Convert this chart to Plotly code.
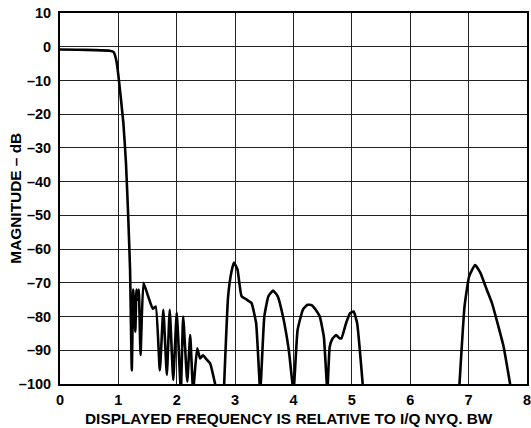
# import packages
import plotly.graph_objects as go

# Frequency response (None = curve below -100 dB)
freq = [0.0, 0.3, 0.6, 0.85, 0.92, 0.97, 1.0, 1.085, 1.13, 1.17, 1.2, 1.23,
        1.255, 1.29, 1.31, 1.33, 1.35, 1.38, 1.43, 1.51, 1.59, 1.64, 1.71,
        1.77, 1.83, 1.88, 1.94, 2.0, 2.07, 2.11, 2.18, 2.23, 2.28, 2.35, 2.40,
        2.45, 2.51, 2.57, 2.67, None,
        2.81, 2.88, 2.94, 2.98, 3.04, 3.11, 3.2, 3.28, 3.36, 3.43,
        3.5, 3.57, 3.65, 3.73, 3.82, 3.92, 4.0,
        4.07, 4.16, 4.24, 4.31, 4.38, 4.45, 4.52, 4.58,
        4.62, 4.67, 4.73, 4.78, 4.82, 4.9, 4.97, 5.03, 5.09, 5.19, None,
        6.84, 6.93, 7.01, 7.11, 7.2, 7.31, 7.4, 7.48, 7.6, 7.72]
mag = [-0.8, -0.9, -1.0, -1.2, -1.6, -4.5, -8.5, -22.5, -34.4, -51.0, -66.0, -96.0,
       -72.0, -84.5, -72.0, -75.0, -72.0, -91.4, -70.0, -74.0, -77.7, -77.0, -96.0,
       -78.0, -97.3, -78.0, -98.8, -78.8, -102.0, -80.0, -99.3, -85.5, -102.0, -89.4, -92.4,
       -91.5, -92.7, -93.8, -101.0, None,
       -101.0, -74.0, -66.5, -64.0, -66.0, -74.0, -75.0, -76.0, -82.0, -102.0,
       -80.0, -74.0, -72.3, -74.0, -80.0, -90.0, -102.0,
       -84.0, -78.0, -76.5, -76.6, -78.0, -80.0, -86.0, -102.0,
       -89.0, -86.5, -85.5, -86.3, -86.5, -82.0, -79.0, -78.5, -82.0, -101.0, None,
       -101.0, -77.0, -68.0, -64.7, -67.0, -72.0, -76.0, -81.0, -89.0, -101.0]

y_ticks = list(range(-100, 11, 10))
y_labels = [str(v).replace('-', '\u2013') for v in y_ticks]
x_ticks = list(range(0, 9))

fig = go.Figure(go.Scatter(x=freq, y=mag, mode='lines',
                           line=dict(color='black', width=2.6, shape='spline', smoothing=0.4),
                           connectgaps=False, hoverinfo='skip'))

axis_font = dict(family='Liberation Sans, Arial, sans-serif', size=14.5, color='black', weight='bold')
title_font = dict(family='Liberation Sans, Arial, sans-serif', size=15.4, color='black', weight='bold')

fig.update_layout(
    width=531, height=428,
    margin=dict(l=60, r=4, t=13, b=44),
    paper_bgcolor='white', plot_bgcolor='white',
    showlegend=False,
    xaxis=dict(range=[0, 8], tickvals=x_ticks, showgrid=True, gridcolor='#222222', gridwidth=1.3,
               zeroline=False, showline=True, linecolor='black', linewidth=2, mirror=True,
               ticks='', tickfont=axis_font, ticklabelstandoff=2, automargin=False,
               ticklabeloverflow='allow'),
    yaxis=dict(range=[-100, 10], tickvals=y_ticks, ticktext=y_labels, showgrid=True,
               gridcolor='#222222', gridwidth=1.3, zeroline=False, showline=True,
               linecolor='black', linewidth=2, mirror=True, ticks='', tickfont=axis_font,
               ticklabelstandoff=4, automargin=False),
)

# axis titles as annotations so they sit where the reference has them
fig.add_annotation(text='DISPLAYED FREQUENCY IS RELATIVE TO I/Q NYQ. BW', xref='paper', yref='paper',
                   x=0.49, y=-0.094, xanchor='center', yanchor='middle', showarrow=False, font=title_font)
fig.add_annotation(text='MAGNITUDE \u2013 dB', xref='paper', yref='paper', textangle=-90,
                   x=-0.096, y=0.5, xanchor='center', yanchor='middle', showarrow=False, font=title_font)

# drop the default page margin so the figure starts at the window corner
fig.write_html("out.html", config={'displayModeBar': False},
               post_script="document.body.style.margin='0';")
